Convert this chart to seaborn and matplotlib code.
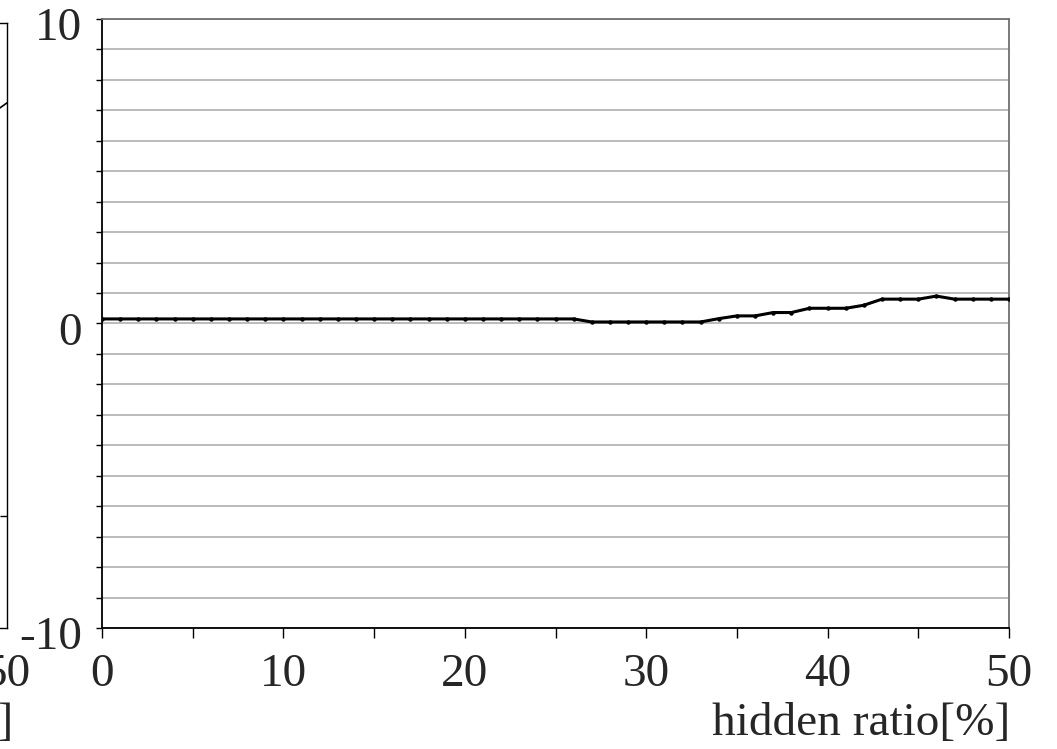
import numpy as np
import pandas as pd
import matplotlib
matplotlib.use("Agg")
import matplotlib.pyplot as plt
import matplotlib.transforms as mtransforms
import seaborn as sns
from matplotlib.ticker import MultipleLocator

# ---- data ----
hidden_ratio = list(range(0, 51))
values = ([0.15] * 27 +                        # 0..26
          [0.05] * 7 +                         # 27..33
          [0.16, 0.25, 0.25, 0.36, 0.36,       # 34..38
           0.5, 0.5, 0.5, 0.6,                 # 39..42
           0.8, 0.8, 0.8, 0.9,                 # 43..46
           0.8, 0.8, 0.8, 0.8])                # 47..50
x_ticks = [0, 10, 20, 30, 40, 50]
y_ticks = [-10, 0, 10]
x_label = "hidden ratio[%]"

# partial neighbouring panel (only its right edge is visible)
left_x = [49, 50]
left_y = [6.93, 7.36]

sns.set_style("white")
plt.rcParams['font.family'] = ['Liberation Serif', 'DejaVu Serif']

W, H = 1057, 749
fig = plt.figure(figsize=(W / 100, H / 100), dpi=100)

def frac_box(x0, y0, x1, y1):
    return [x0 / W, 1 - y1 / H, (x1 - x0) / W, (y1 - y0) / H]

FS = 34

# ---- main axes ----
ax = fig.add_axes(frac_box(102, 19, 1009, 628))
df = pd.DataFrame({"x": hidden_ratio, "y": values})
sns.lineplot(data=df, x="x", y="y", ax=ax, color="black", linewidth=2.2,
             marker="o", markersize=3.2, markeredgewidth=0, zorder=5)
ax.set_xlim(0, 50)
ax.set_ylim(-10, 10)
ax.set_xticks(x_ticks)
ax.xaxis.set_minor_locator(MultipleLocator(5))
ax.set_yticks(y_ticks)
ax.yaxis.set_minor_locator(MultipleLocator(1))
ax.set_xticklabels([str(v) for v in x_ticks], fontsize=FS)
ax.set_yticklabels([str(v) for v in y_ticks], fontsize=FS)
ax.yaxis.grid(True, which='both', color='#a8a8a8', linewidth=1.1)
ax.xaxis.grid(False)
ax.tick_params(axis='x', which='both', direction='out', length=7, width=1,
               color='black', pad=11, bottom=True)
ax.tick_params(axis='y', which='both', direction='out', length=4.5, width=1,
               color='black', pad=10, left=True)
shift = mtransforms.ScaledTranslation(0, -5 / 100, fig.dpi_scale_trans)
for lab in ax.get_yticklabels():
    lab.set_transform(lab.get_transform() + shift)
ax.set_xlabel("")
ax.set_ylabel("")
for side in ['left', 'bottom']:
    ax.spines[side].set_color('black')
    ax.spines[side].set_linewidth(1.3)
for side in ['top', 'right']:
    ax.spines[side].set_color('#707070')
    ax.spines[side].set_linewidth(1.3)

fig.text(1010 / W, 1 - 745 / H, x_label, ha='right', va='bottom', fontsize=FS)

# ---- partial left panel ----
ax2 = fig.add_axes(frac_box(7 - 907, 23, 7, 628))
sns.lineplot(x=left_x, y=left_y, ax=ax2, color='black', linewidth=1.2)
ax2.set_xlim(0, 50)
ax2.set_ylim(-10, 10)
ax2.set_xticks(x_ticks)
ax2.set_xticklabels([str(v) for v in x_ticks], fontsize=FS)
ax2.set_yticks([-6.3])
ax2.set_yticklabels([])
ax2.yaxis.set_ticks_position('right')
ax2.tick_params(axis='y', direction='in', length=5, width=1, color='black')
ax2.tick_params(axis='x', direction='out', length=7, width=1, color='black', pad=11)
for side in ['left', 'bottom', 'top', 'right']:
    ax2.spines[side].set_color('black')
    ax2.spines[side].set_linewidth(1.0)
ax2.set_xlabel("")
ax2.set_ylabel("")
fig.text(13 / W, 1 - 745 / H, x_label, ha='right', va='bottom', fontsize=FS)

fig.savefig("out.png", dpi=100)
